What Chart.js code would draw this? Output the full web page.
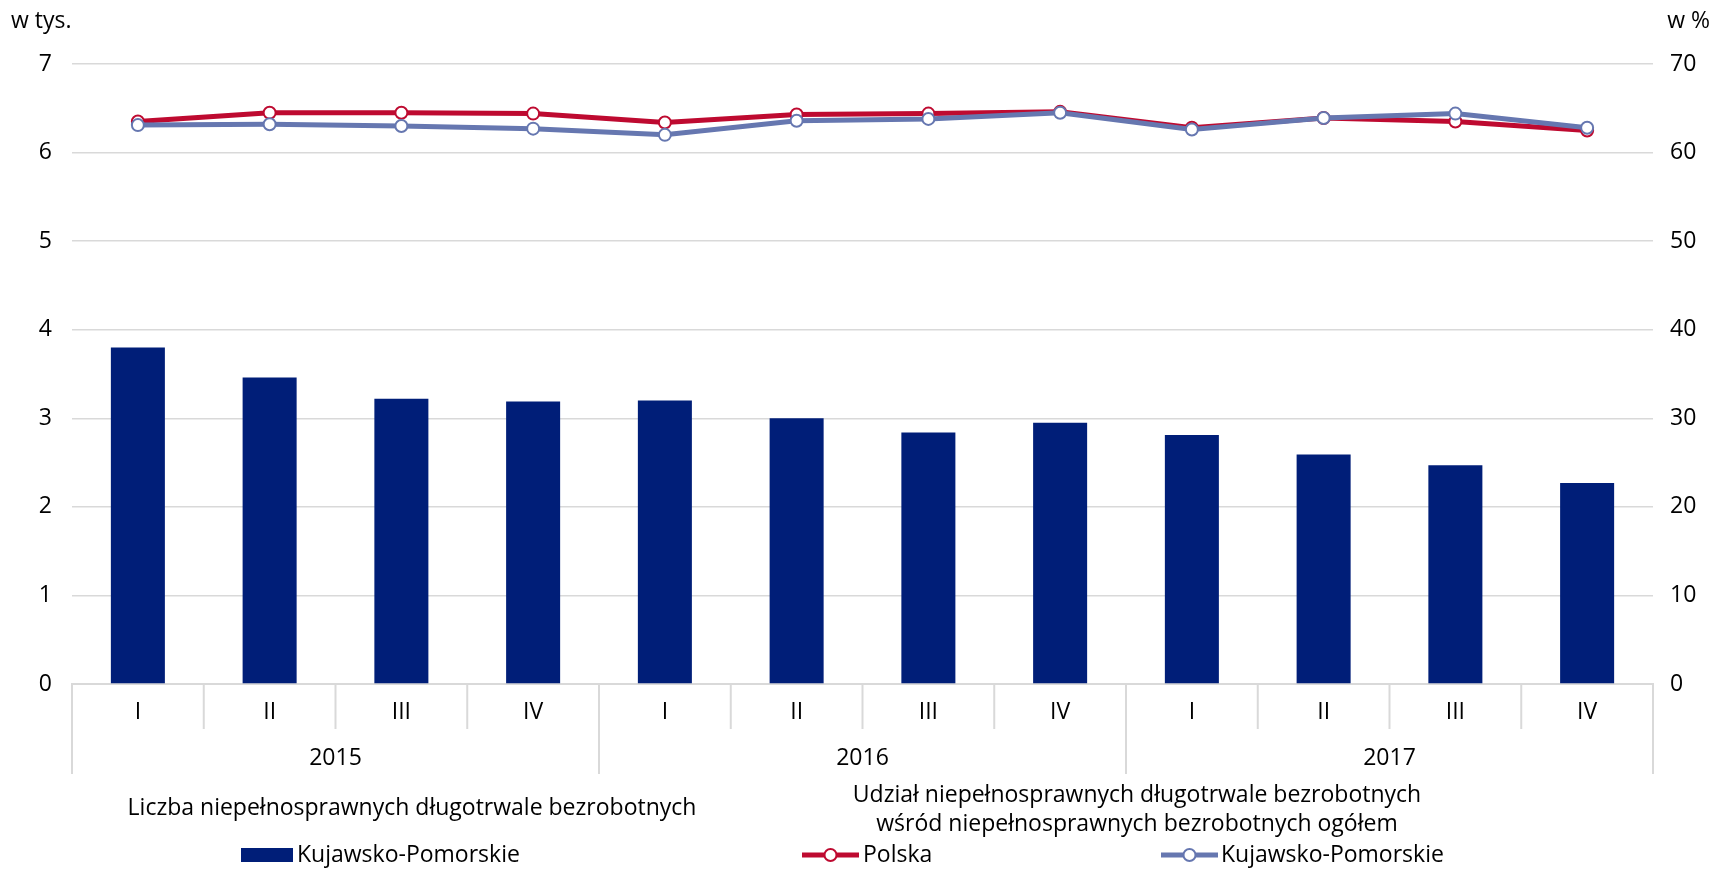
<!DOCTYPE html>
<html>
<head>
<meta charset="utf-8">
<script src="https://cdn.jsdelivr.net/npm/chart.js@4.4.0/dist/chart.umd.min.js"></script>
<style>
  html, body { margin: 0; padding: 0; background: #fff; }
</style>
</head>
<body>
<canvas id="chart" width="1712" height="869"></canvas>
<script>
var quarters = ['I', 'II', 'III', 'IV', 'I', 'II', 'III', 'IV', 'I', 'II', 'III', 'IV'];
var years = ['2015', '2016', '2017'];
// liczba niepelnosprawnych dlugotrwale bezrobotnych, w tys.
var countKP = [3.80, 3.46, 3.22, 3.19, 3.20, 3.00, 2.84, 2.95, 2.81, 2.59, 2.47, 2.27];
// udzial w %, os prawa
var sharePolska = [63.5, 64.5, 64.5, 64.4, 63.4, 64.3, 64.4, 64.6, 62.8, 63.9, 63.5, 62.5];
var shareKP = [63.1, 63.2, 63.0, 62.7, 62.0, 63.6, 63.8, 64.5, 62.6, 63.9, 64.4, 62.8];

var FONT = '"Open Sans", Roboto, sans-serif';
var SIZE = 23;
var navy = '#001e78';
var red = '#be0a30';
var blue = '#6677b0';
var grey = '#d9d9d9';

var decorations = {
  id: 'decorations',
  afterDraw: function(chart) {
    var ctx = chart.ctx;
    var x = chart.scales.x;
    var area = chart.chartArea;
    var bottom = area.bottom;

    ctx.save();
    // separators below the category axis
    ctx.strokeStyle = grey;
    ctx.lineWidth = 2;
    for (var i = 0; i <= quarters.length; i++) {
      var px;
      if (i == 0) px = area.left;
      else if (i == quarters.length) px = area.right;
      else px = (x.getPixelForValue(i - 1) + x.getPixelForValue(i)) / 2;
      var len = (i % 4 == 0) ? 90 : 45;
      ctx.beginPath();
      ctx.moveTo(px, bottom);
      ctx.lineTo(px, bottom + len);
      ctx.stroke();
    }

    ctx.fillStyle = '#000';
    ctx.font = SIZE + 'px ' + FONT;
    ctx.textAlign = 'center';
    ctx.textBaseline = 'middle';
    years.forEach(function(y, g) {
      var cx = (x.getPixelForValue(g * 4) + x.getPixelForValue(g * 4 + 3)) / 2;
      ctx.fillText(y, cx, bottom + 74);
    });

    // unit labels
    ctx.textAlign = 'left';
    ctx.fillText('w tys.', 11, 21);
    ctx.textAlign = 'right';
    ctx.fillText('w %', 1710, 21);

    // legend headers
    ctx.textAlign = 'center';
    ctx.fillText('Liczba niepełnosprawnych długotrwale bezrobotnych', 412, 808);
    ctx.fillText('Udział niepełnosprawnych długotrwale bezrobotnych', 1137, 795);
    ctx.fillText('wśród niepełnosprawnych bezrobotnych ogółem', 1137, 824);

    // legend items
    var ly = 855;
    ctx.fillStyle = navy;
    ctx.fillRect(241, ly - 7, 52, 14);

    function lineMarker(x0, color) {
      ctx.strokeStyle = color;
      ctx.lineWidth = 5;
      ctx.beginPath();
      ctx.moveTo(x0, ly);
      ctx.lineTo(x0 + 57, ly);
      ctx.stroke();
      ctx.beginPath();
      ctx.arc(x0 + 28.5, ly, 6, 0, Math.PI * 2);
      ctx.fillStyle = '#fff';
      ctx.fill();
      ctx.lineWidth = 2;
      ctx.stroke();
    }
    lineMarker(802, red);
    lineMarker(1161, blue);

    ctx.fillStyle = '#000';
    ctx.textAlign = 'left';
    ctx.fillText('Kujawsko-Pomorskie', 297, ly);
    ctx.fillText('Polska', 863, ly);
    ctx.fillText('Kujawsko-Pomorskie', 1221, ly);
    ctx.restore();
  }
};

new Chart(document.getElementById('chart'), {
  type: 'bar',
  data: {
    labels: quarters,
    datasets: [{
      type: 'bar',
      label: 'Kujawsko-Pomorskie',
      data: countKP,
      backgroundColor: navy,
      yAxisID: 'y',
      categoryPercentage: 1,
      barPercentage: 0.41,
      order: 3
    }, {
      type: 'line',
      label: 'Polska',
      data: sharePolska,
      borderColor: red,
      borderWidth: 5,
      pointRadius: 6,
      pointBorderWidth: 2,
      pointBackgroundColor: '#fff',
      pointBorderColor: red,
      tension: 0,
      yAxisID: 'y1',
      order: 2
    }, {
      type: 'line',
      label: 'Kujawsko-Pomorskie',
      data: shareKP,
      borderColor: blue,
      borderWidth: 5,
      pointRadius: 6,
      pointBorderWidth: 2,
      pointBackgroundColor: '#fff',
      pointBorderColor: blue,
      tension: 0,
      yAxisID: 'y1',
      order: 1
    }]
  },
  options: {
    responsive: false,
    animation: false,
    layout: { padding: { top: 64, left: 0, right: 0, bottom: 0 } },
    plugins: {
      legend: { display: false },
      tooltip: { enabled: false }
    },
    scales: {
      x: {
        grid: { display: false, drawTicks: false },
        border: { display: true, color: grey, width: 2 },
        ticks: { color: '#000', font: { family: FONT, size: SIZE }, padding: 15, maxRotation: 0 },
        afterFit: function(s) { s.height = 185; }
      },
      y: {
        position: 'left',
        min: 0,
        max: 7,
        ticks: { stepSize: 1, color: '#000', font: { family: FONT, size: SIZE }, padding: 20 },
        grid: { color: grey, lineWidth: 1.5, drawTicks: false },
        border: { display: false },
        afterFit: function(s) { s.width = 72; }
      },
      y1: {
        position: 'right',
        min: 0,
        max: 70,
        ticks: { stepSize: 10, color: '#000', font: { family: FONT, size: SIZE }, padding: 17 },
        grid: { display: false, drawTicks: false },
        border: { display: false },
        afterFit: function(s) { s.width = 59; }
      }
    }
  },
  plugins: [decorations]
});
</script>
</body>
</html>
